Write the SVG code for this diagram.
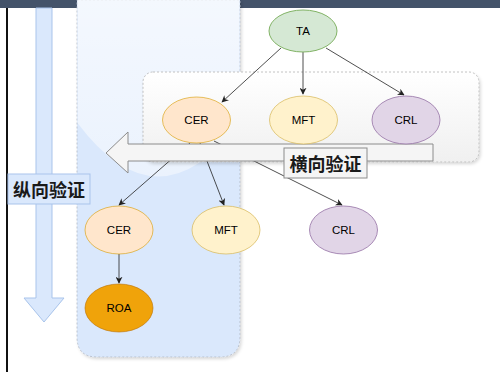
<svg xmlns="http://www.w3.org/2000/svg" width="500" height="372" viewBox="0 0 500 372">
  <style>
    .lbl { font-family: "Liberation Sans", Arial, sans-serif; font-size: 11.5px; fill: #000; text-anchor: middle; dominant-baseline: central; }
    .cjk { font-family: "Noto Sans CJK SC", "Liberation Sans", sans-serif; font-size: 18px; font-weight: bold; fill: #1a1a1a; text-anchor: middle; dominant-baseline: central; }
    .edge { stroke: #222; stroke-width: 0.8; fill: none; marker-end: url(#arr); }
    .ta { fill: #d5e8d4; stroke: #82b366; }
    .cer { fill: #ffe6cc; stroke: #d79b00; stroke-opacity: 0.6; }
    .mft { fill: #fff2cc; stroke: #d6b656; stroke-opacity: 0.7; }
    .crl { fill: #e1d5e7; stroke: #9673a6; stroke-opacity: 0.8; }
    .roa { fill: #f0a30a; stroke: #bd7000; stroke-opacity: 0.6; }
  </style>
  <defs>
    <marker id="arr" viewBox="0 0 10 10" refX="9" refY="5" markerWidth="7" markerHeight="7" orient="auto" markerUnits="userSpaceOnUse">
      <path d="M0,0 L10,5 L0,10 L3,5 Z" fill="#222"/>
    </marker>
    <linearGradient id="grayFill" x1="0" y1="0" x2="0" y2="1">
      <stop offset="0" stop-color="#ffffff"/>
      <stop offset="1" stop-color="#f0f0f0"/>
    </linearGradient>
    <linearGradient id="glass" x1="0" y1="0" x2="0" y2="1">
      <stop offset="0" stop-color="#ffffff" stop-opacity="0.7"/>
      <stop offset="1" stop-color="#ffffff" stop-opacity="0.45"/>
    </linearGradient>
    <filter id="shadow" x="-5%" y="-10%" width="110%" height="130%">
      <feDropShadow dx="1.5" dy="2" stdDeviation="1.5" flood-color="#000" flood-opacity="0.15"/>
    </filter>
  </defs>

  <rect x="0" y="0" width="500" height="372" fill="#ffffff"/>

  <!-- header strip and left frame line -->
  <rect x="0" y="0" width="500" height="8" fill="#44536a"/>
  <rect x="6" y="8" width="2" height="364" fill="#111"/>

  <!-- vertical validation arrow -->
  <g id="vertical-arrow">
    <path d="M36,8 L52,8 L52,298 L64,298 L44,322 L24,298 L36,298 Z" fill="#dae8fc" stroke="#a9c4eb" stroke-width="1"/>
  </g>

  <!-- blue lane panel with glass highlight -->
  <g id="blue-panel">
    <path d="M77,0 L240,0 L240,337 Q240,357 220,357 L97,357 Q77,357 77,337 Z" fill="#dae8fc" stroke="#b0b8c4" stroke-width="0.8" stroke-dasharray="2,2" filter="url(#shadow)"/>
    <path d="M77.5,0 L239.5,0 L239.5,123 Q158,230 77.5,123 Z" fill="url(#glass)"/>
  </g>

  <g id="label-vertical">
    <rect x="8" y="174" width="82" height="30" fill="#dae8fc" stroke="#a9c4eb" stroke-width="1"/>
    <text class="cjk" x="49" y="189">纵向验证</text>
  </g>

  <!-- gray lane panel -->
  <g id="gray-panel">
    <rect x="143" y="72" width="336" height="90" rx="10" ry="10" fill="url(#grayFill)" stroke="#b3b3b3" stroke-width="0.8" stroke-dasharray="2,2" filter="url(#shadow)"/>
  </g>

  <!-- connectors -->
  <g id="connectors">
    <line class="edge" x1="281" y1="48" x2="222" y2="102"/>
    <line class="edge" x1="303" y1="52" x2="303" y2="94"/>
    <line class="edge" x1="326" y1="48" x2="404" y2="95"/>
    <line class="edge" x1="190" y1="143" x2="119" y2="205"/>
    <line class="edge" x1="200" y1="143" x2="224" y2="205"/>
    <line class="edge" x1="214" y1="141" x2="342" y2="205"/>
    <line class="edge" x1="119" y1="254" x2="119" y2="283"/>
  </g>

  <!-- horizontal validation arrow -->
  <g id="horizontal-arrow">
    <path d="M433,144 L128,144 L128,132 L106,153 L128,173 L128,161 L433,161 Z" fill="#f5f5f5" stroke="#8c8c8c" stroke-width="1"/>
  </g>

  <g id="label-horizontal">
    <rect x="284" y="148" width="83" height="30" fill="#f5f5f5" stroke="#8c8c8c" stroke-width="1"/>
    <text class="cjk" x="325.5" y="163">横向验证</text>
  </g>

  <!-- nodes -->
  <g id="node-ta">
    <ellipse class="ta" cx="303" cy="31" rx="34" ry="21"/>
    <text class="lbl" x="303" y="31">TA</text>
  </g>
  <g id="node-cer-1">
    <ellipse class="cer" cx="196.5" cy="120" rx="34" ry="23"/>
    <text class="lbl" x="196.5" y="120">CER</text>
  </g>
  <g id="node-mft-1">
    <ellipse class="mft" cx="303.5" cy="120" rx="34" ry="24"/>
    <text class="lbl" x="303.5" y="120">MFT</text>
  </g>
  <g id="node-crl-1">
    <ellipse class="crl" cx="406" cy="120" rx="34" ry="24"/>
    <text class="lbl" x="406" y="120">CRL</text>
  </g>
  <g id="node-cer-2">
    <ellipse class="cer" cx="119" cy="230" rx="34" ry="24"/>
    <text class="lbl" x="119" y="230">CER</text>
  </g>
  <g id="node-mft-2">
    <ellipse class="mft" cx="226" cy="230" rx="34" ry="24"/>
    <text class="lbl" x="226" y="230">MFT</text>
  </g>
  <g id="node-crl-2">
    <ellipse class="crl" cx="343.5" cy="230" rx="34" ry="24"/>
    <text class="lbl" x="343.5" y="230">CRL</text>
  </g>
  <g id="node-roa">
    <ellipse class="roa" cx="119" cy="308" rx="34" ry="24"/>
    <text class="lbl" x="119" y="308">ROA</text>
  </g>
</svg>
